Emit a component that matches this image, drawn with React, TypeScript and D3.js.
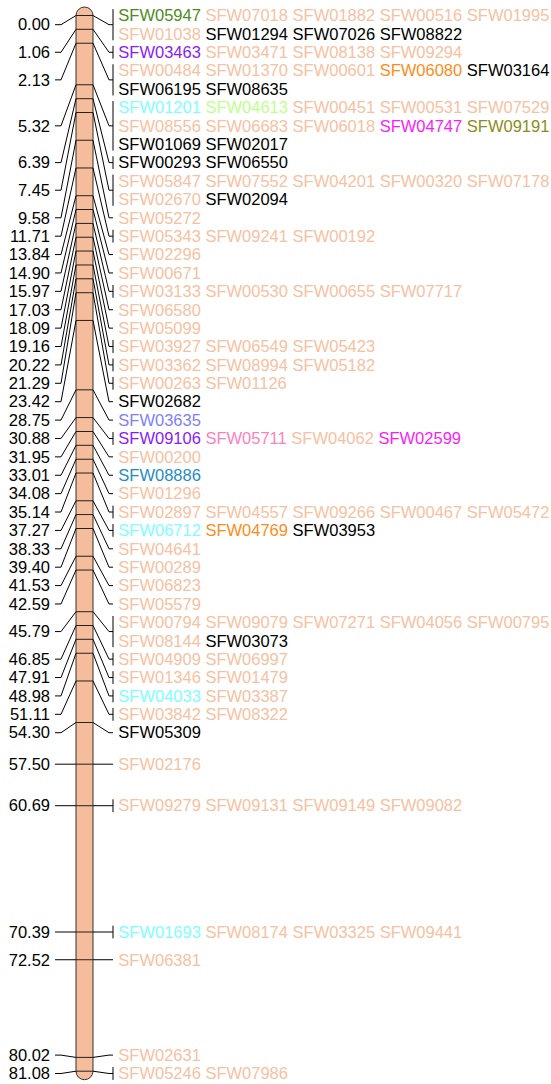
import React from "react";
import * as d3 from "d3";

// linkage group positions (cM), one per marker cluster
const positions = [
  0.0, 1.06, 2.13, 5.32, 6.39, 7.45, 9.58, 11.71, 13.84, 14.9, 15.97, 17.03,
  18.09, 19.16, 20.22, 21.29, 23.42, 28.75, 30.88, 31.95, 33.01, 34.08, 35.14,
  37.27, 38.33, 39.4, 41.53, 42.59, 45.79, 46.85, 47.91, 48.98, 51.11, 54.3,
  57.5, 60.69, 70.39, 72.52, 80.02, 81.08,
];

// markers at each position (same order as positions)
const markers = [
  ["SFW05947", "SFW07018", "SFW01882", "SFW00516", "SFW01995", "SFW01038", "SFW01294", "SFW07026", "SFW08822"],
  ["SFW03463", "SFW03471", "SFW08138", "SFW09294"],
  ["SFW00484", "SFW01370", "SFW00601", "SFW06080", "SFW03164", "SFW06195", "SFW08635"],
  ["SFW01201", "SFW04613", "SFW00451", "SFW00531", "SFW07529", "SFW08556", "SFW06683", "SFW06018", "SFW04747", "SFW09191", "SFW01069", "SFW02017"],
  ["SFW00293", "SFW06550"],
  ["SFW05847", "SFW07552", "SFW04201", "SFW00320", "SFW07178", "SFW02670", "SFW02094"],
  ["SFW05272"],
  ["SFW05343", "SFW09241", "SFW00192"],
  ["SFW02296"],
  ["SFW00671"],
  ["SFW03133", "SFW00530", "SFW00655", "SFW07717"],
  ["SFW06580"],
  ["SFW05099"],
  ["SFW03927", "SFW06549", "SFW05423"],
  ["SFW03362", "SFW08994", "SFW05182"],
  ["SFW00263", "SFW01126"],
  ["SFW02682"],
  ["SFW03635"],
  ["SFW09106", "SFW05711", "SFW04062", "SFW02599"],
  ["SFW00200"],
  ["SFW08886"],
  ["SFW01296"],
  ["SFW02897", "SFW04557", "SFW09266", "SFW00467", "SFW05472"],
  ["SFW06712", "SFW04769", "SFW03953"],
  ["SFW04641"],
  ["SFW00289"],
  ["SFW06823"],
  ["SFW05579"],
  ["SFW00794", "SFW09079", "SFW07271", "SFW04056", "SFW00795", "SFW08144", "SFW03073"],
  ["SFW04909", "SFW06997"],
  ["SFW01346", "SFW01479"],
  ["SFW04033", "SFW03387"],
  ["SFW03842", "SFW08322"],
  ["SFW05309"],
  ["SFW02176"],
  ["SFW09279", "SFW09131", "SFW09149", "SFW09082"],
  ["SFW01693", "SFW08174", "SFW03325", "SFW09441"],
  ["SFW06381"],
  ["SFW02631"],
  ["SFW05246", "SFW07986"],
];

// markers highlighted in another colour (everything else uses the default)
const highlighted: Record<string, string> = {
  SFW05947: "#4d8c1c",
  SFW01294: "#000000", SFW07026: "#000000", SFW08822: "#000000",
  SFW03463: "#8c1aff",
  SFW06080: "#ff8c1a", SFW03164: "#000000", SFW06195: "#000000", SFW08635: "#000000",
  SFW01201: "#80ffff", SFW04613: "#c0ff8c", SFW04747: "#ff1aff", SFW09191: "#8c8c1a",
  SFW01069: "#000000", SFW02017: "#000000",
  SFW00293: "#000000", SFW06550: "#000000",
  SFW02094: "#000000",
  SFW02682: "#000000",
  SFW03635: "#8080ff",
  SFW09106: "#8c1aff", SFW05711: "#ff80c0", SFW02599: "#ff1aff",
  SFW08886: "#1f8cc8",
  SFW06712: "#80ffff", SFW04769: "#ff8c1a", SFW03953: "#000000",
  SFW03073: "#000000",
  SFW04033: "#80ffff",
  SFW05309: "#000000",
  SFW01693: "#80ffff",
};

const defaultColor = "#f8c1a1";
const perLine = 5;

const W = 551;
const H = 1084;
const barX = 76;
const barW = 17;
const lineH = 18.39;
const fontSize = 16.5;

function spread(centers: number[], heights: number[], minTop: number) {
  // merge overlapping label blocks, each block sits at the mean of what its members want
  let blocks = centers.map((c, i) => ({ idx: [i], top: c - heights[i] / 2, h: heights[i] }));
  let changed = true;
  while (changed) {
    changed = false;
    const out: typeof blocks = [];
    for (const b of blocks) {
      const prev = out[out.length - 1];
      if (prev && prev.top + prev.h > b.top + 1e-6) {
        const idx = prev.idx.concat(b.idx);
        let off = 0;
        let sum = 0;
        idx.forEach((j) => {
          sum += centers[j] - (off + heights[j] / 2);
          off += heights[j];
        });
        out[out.length - 1] = { idx, top: Math.max(minTop, sum / idx.length), h: off };
        changed = true;
      } else {
        out.push({ ...b, top: Math.max(minTop, b.top) });
      }
    }
    blocks = out;
  }
  const tops: number[] = [];
  blocks.forEach((b) => {
    let t = b.top;
    b.idx.forEach((j) => {
      tops[j] = t;
      t += heights[j];
    });
  });
  return tops;
}

export default function App() {
  const y = d3
    .scaleLinear()
    .domain([0, d3.max(positions) as number])
    .range([15.5, 1071.2]);
  const fmt = d3.format(".2f");

  const lines = markers.map((m) => d3.range(0, m.length, perLine).map((s) => m.slice(s, s + perLine)));
  const heights = lines.map((l) => l.length * lineH);
  const tops = spread(positions.map((p) => y(p)), heights, y(0) - lineH / 2);

  const leftEnd = 50;
  const rightStart = 118.3;
  const bx0 = barX;
  const bx1 = barX + barW;
  const brX = 113;

  return (
    <svg
      width={W}
      height={H}
      style={{ position: "absolute", left: 0, top: 0, background: "#fff" }}
      fontFamily="'Liberation Sans', Arial, Helvetica, sans-serif"
      fontSize={fontSize}
    >
      <rect
        x={bx0}
        y={y(0) - barW / 2}
        width={barW}
        height={y(positions[positions.length - 1]) - y(0) + barW}
        rx={barW / 2}
        fill="#f5bd9b"
        stroke="#333"
        strokeWidth={1}
      />
      {positions.map((p, i) => {
        const by = y(p);
        const ly = tops[i] + heights[i] / 2;
        const grp = lines[i];
        return (
          <g key={i}>
            <line x1={bx0} x2={bx1} y1={by} y2={by} stroke="#222" strokeWidth={1} />
            <path
              d={`M${leftEnd + 5},${ly}L${leftEnd + 11},${ly}L${bx0},${by}`}
              fill="none"
              stroke="#000"
              strokeWidth={1}
            />
            <path
              d={`M${bx1},${by}L${brX - 4},${ly}L${brX},${ly}`}
              fill="none"
              stroke="#000"
              strokeWidth={1}
            />
            {markers[i].length > 1 && (
              <line
                x1={brX}
                x2={brX}
                y1={tops[i] + lineH / 2 - 6.4}
                y2={tops[i] + heights[i] - lineH / 2 + 6.4}
                stroke="#000"
                strokeWidth={1}
              />
            )}
            <text x={leftEnd} y={ly} dy="0.35em" textAnchor="end" fill="#000">
              {fmt(p)}
            </text>
            {grp.map((row, r) => (
              <text key={r} x={rightStart} y={tops[i] + (r + 0.5) * lineH} dy="0.35em">
                {row.map((m, k) => (
                  <tspan key={m} fill={highlighted[m] || defaultColor}>
                    {(k > 0 ? " " : "") + m}
                  </tspan>
                ))}
              </text>
            ))}
          </g>
        );
      })}
    </svg>
  );
}
